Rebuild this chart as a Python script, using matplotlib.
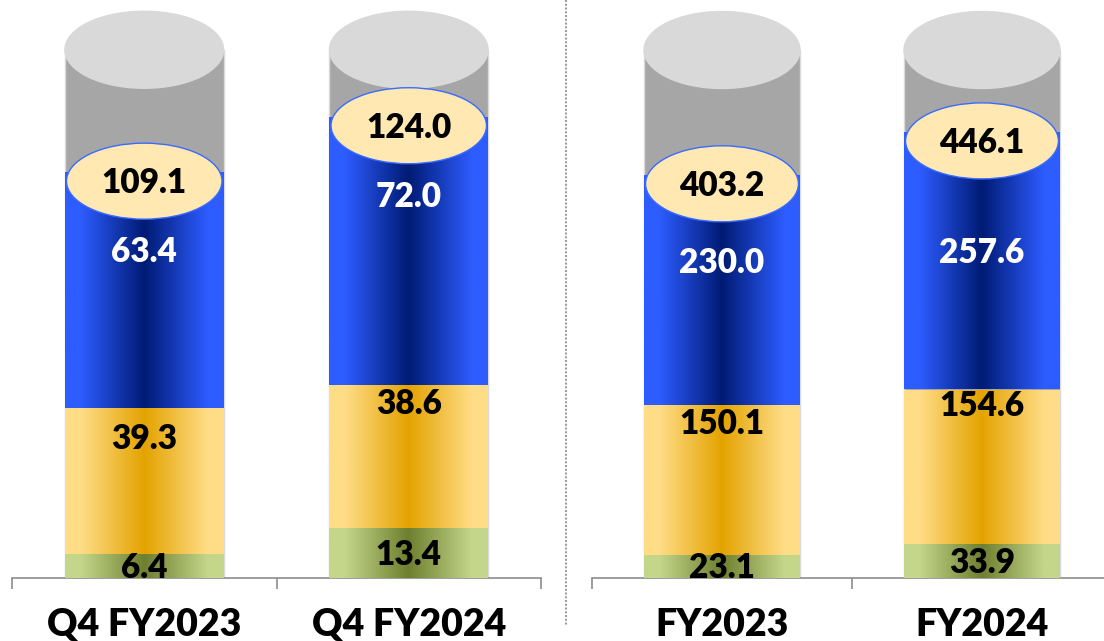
import numpy as np
import matplotlib.pyplot as plt
from matplotlib.patches import Ellipse
from matplotlib.colors import LinearSegmentedColormap
from matplotlib.lines import Line2D

plt.rcParams['font.family'] = ['Lato', 'DejaVu Sans']
plt.rcParams['font.weight'] = 'heavy'

# quarter comparison
q_labels = ['Q4 FY2023', 'Q4 FY2024']
q_green = [6.4, 13.4]
q_gold = [39.3, 38.6]
q_blue = [63.4, 72.0]
q_total = [109.1, 124.0]
q_back = [142, 142]

# full year comparison
fy_labels = ['FY2023', 'FY2024']
fy_green = [23.1, 33.9]
fy_gold = [150.1, 154.6]
fy_blue = [230.0, 257.6]
fy_total = [403.2, 446.1]
fy_back = [528, 528]

W = 0.6
grad = np.linspace(0, 1, 256).reshape(1, -1)


def shade(light, dark):
    return LinearSegmentedColormap.from_list(
        '', [(0, light), (0.1, light), (0.5, dark), (0.9, light), (1, light)])


cm_green = shade('#c4d68a', '#6e7f2f')
cm_gold = shade('#ffdc86', '#e3a300')
cm_blue = shade('#2d5cff', '#001b74')


def grad_bars(ax, x, vals, bottom, cmap):
    bars = ax.bar(x, vals, W, bottom=bottom, color='none', linewidth=0, zorder=3)
    for b in bars:
        im = ax.imshow(grad, cmap=cmap, aspect='auto', zorder=3, interpolation='bilinear',
                       extent=[b.get_x(), b.get_x() + b.get_width(),
                               b.get_y(), b.get_y() + b.get_height()])
        im.set_clip_path(b)
    return bars


def panel(ax, labels, green, gold, blue, total, back, ymax, blue_off, gold_off):
    x = np.arange(len(labels))
    ax.set_xlim(-0.5, 1.5)
    ax.set_ylim(0, ymax)
    ppu = ax.bbox.height / ymax
    ell_h = 77 / ppu

    # grey cylinder behind
    ax.bar(x, back, W, color='#a6a6a6', edgecolor='#d9d9d9', linewidth=1, zorder=1)
    for xi, b in zip(x, back):
        ax.add_patch(Ellipse((xi, b), W, ell_h, color='#d9d9d9', zorder=2))

    g = np.array(green)
    o = g + np.array(gold)
    grad_bars(ax, x, green, 0, cm_green)
    grad_bars(ax, x, gold, g, cm_gold)
    grad_bars(ax, x, blue, o, cm_blue)
    ax.set_xlim(-0.5, 1.5)
    ax.set_ylim(0, ymax)

    for i, xi in enumerate(x):
        ax.annotate(f'{green[i]:.1f}', (xi, green[i] / 2), xytext=(0, -2),
                    textcoords='offset pixels', ha='center', va='center',
                    fontsize=24, color='black', zorder=5)
        ax.annotate(f'{gold[i]:.1f}', (xi, o[i]), xytext=(0, -gold_off[i]),
                    textcoords='offset pixels', ha='center', va='center',
                    fontsize=24, color='black', zorder=5)
        ax.annotate(f'{blue[i]:.1f}', (xi, total[i]), xytext=(0, -blue_off[i]),
                    textcoords='offset pixels', ha='center', va='center',
                    fontsize=24, color='white', zorder=5)
        cy = total[i] - 9 / ppu
        ax.add_patch(Ellipse((xi, cy), W * 0.98, 76 / ppu, facecolor='#ffe8b2',
                             edgecolor='#3a6bff', linewidth=1, zorder=6))
        ax.annotate(f'{total[i]:.1f}', (xi, cy), xytext=(0, -2),
                    textcoords='offset pixels', ha='center', va='center',
                    fontsize=24, color='black', zorder=7)

    ax.set_xticks([-0.5, 0.5, 1.5])
    ax.set_xticklabels([])
    ax.set_xticks(x, labels, minor=True)
    ax.tick_params(axis='x', which='major', length=8, width=1.2, color='#8c8c8c')
    ax.tick_params(axis='x', which='minor', length=0, pad=21.5, labelsize=27)
    ax.set_yticks([])
    for s in ['left', 'right', 'top']:
        ax.spines[s].set_visible(False)
    ax.spines['bottom'].set_color('#8c8c8c')
    ax.spines['bottom'].set_linewidth(1.2)
    ax.patch.set_visible(False)


fig = plt.figure(figsize=(11.04, 6.41), dpi=100)
fw, fh = 1104, 641
ax1 = fig.add_axes([12 / fw, 63 / fh, 529 / fw, 578 / fh])
ax2 = fig.add_axes([592 / fw, 63 / fh, 520 / fw, 578 / fh])

panel(ax1, q_labels, q_green, q_gold, q_blue, q_total, q_back, 578 / 3.72,
      [80, 80], [31, 19])
panel(ax2, fy_labels, fy_green, fy_gold, fy_blue, fy_total, fy_back, 578,
      [88, 121], [19, 16])

fig.add_artist(Line2D([566 / fw, 566 / fw], [1, 16 / fh], transform=fig.transFigure,
                      color='#a0a0a0', linewidth=1.5, linestyle=(0, (1, 0.8))))

fig.savefig('out.png', dpi=100)
